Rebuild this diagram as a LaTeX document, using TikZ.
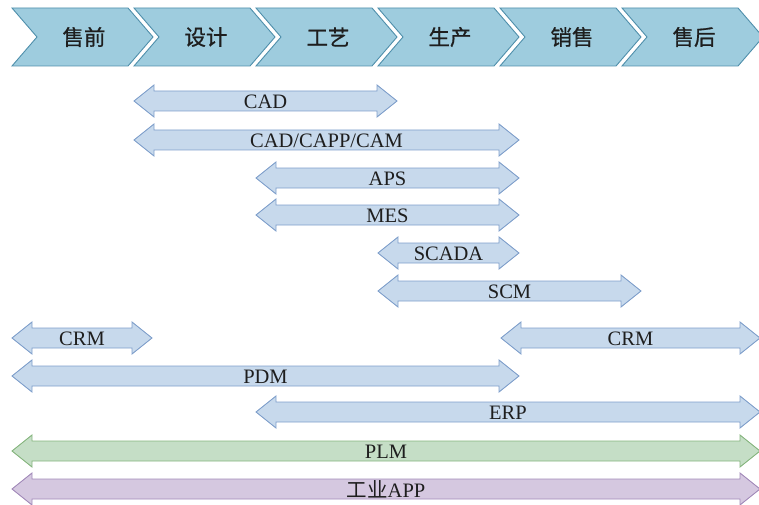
\documentclass[tikz,border=0pt]{standalone}
\usepackage{fontspec}
\setmainfont{Liberation Serif}
\newfontfamily\cjk{Noto Sans CJK SC}
\newfontfamily\cjkbold{Noto Sans CJK SC}[FakeBold=0.8]
\definecolor{chevfill}{HTML}{9ECCDE}
\definecolor{chevline}{HTML}{4F8FAB}
\definecolor{bluefill}{HTML}{C7D9EC}
\definecolor{blueline}{HTML}{7F9FCB}
\definecolor{greenfill}{HTML}{C5DEC6}
\definecolor{greenline}{HTML}{86B57E}
\definecolor{purplefill}{HTML}{D5C8E0}
\definecolor{purpleline}{HTML}{A28AB9}
\definecolor{ink}{HTML}{1E1E1E}

% chevron: style, name, left x, text
\newcommand\chevron[4]{%
  \draw[#1] (#3,8) -- (#3+116,8) -- (#3+141,37) -- (#3+116,66) -- (#3,66) -- (#3+25,37) -- cycle;
  \node[stagelbl] (#2) at (#3+72,37) {#4};}
% double-headed band: style, name, left tip x, right tip x, centre y, text
\newcommand\band[6]{%
  \draw[#1] (#3,#5) -- (#3+20,#5-16) -- (#3+20,#5-10) -- (#4-20,#5-10) -- (#4-20,#5-16)
    -- (#4,#5) -- (#4-20,#5+16) -- (#4-20,#5+10) -- (#3+20,#5+10) -- (#3+20,#5+16) -- cycle;
  \node[bandlbl] (#2) at ({(#3+#4)/2},#5+0.5) {#6};}

\begin{document}
\begin{tikzpicture}[x=1pt,y=-1pt,line join=miter,
  stage/.style={fill=chevfill,draw=chevline,line width=0.9pt},
  stagelbl/.style={font=\cjkbold\fontsize{21.5}{21.5}\selectfont,text=ink,inner sep=0pt},
  bluebar/.style={fill=bluefill,draw=blueline,line width=0.9pt},
  greenbar/.style={fill=greenfill,draw=greenline,line width=0.9pt},
  purplebar/.style={fill=purplefill,draw=purpleline,line width=0.9pt},
  bandlbl/.style={font=\fontsize{20.5}{20.5}\selectfont,text=ink,inner sep=0pt}]
\useasboundingbox (0,0) rectangle (759,505);

% value-chain stages
\chevron{stage}{s1}{12}{售前}
\chevron{stage}{s2}{134}{设计}
\chevron{stage}{s3}{256}{工艺}
\chevron{stage}{s4}{378}{生产}
\chevron{stage}{s5}{500}{销售}
\chevron{stage}{s6}{622}{售后}

% systems spanning the stages
\band{bluebar}{cad}{134}{397}{101}{CAD}
\band{bluebar}{cam}{134}{519}{140}{CAD/CAPP/CAM}
\band{bluebar}{aps}{256}{519}{178}{APS}
\band{bluebar}{mes}{256}{519}{215}{MES}
\band{bluebar}{scada}{378}{519}{253}{SCADA}
\band{bluebar}{scm}{378}{641}{291}{SCM}
\band{bluebar}{crma}{12}{152}{338}{CRM}
\band{bluebar}{crmb}{501}{760}{338}{CRM}
\band{bluebar}{pdm}{12}{519}{376}{PDM}
\band{bluebar}{erp}{256}{760}{412}{ERP}
\band{greenbar}{plm}{12}{760}{451}{PLM}
\band{purplebar}{app}{12}{760}{489}{{\cjk 工业}APP}
\end{tikzpicture}
\end{document}
